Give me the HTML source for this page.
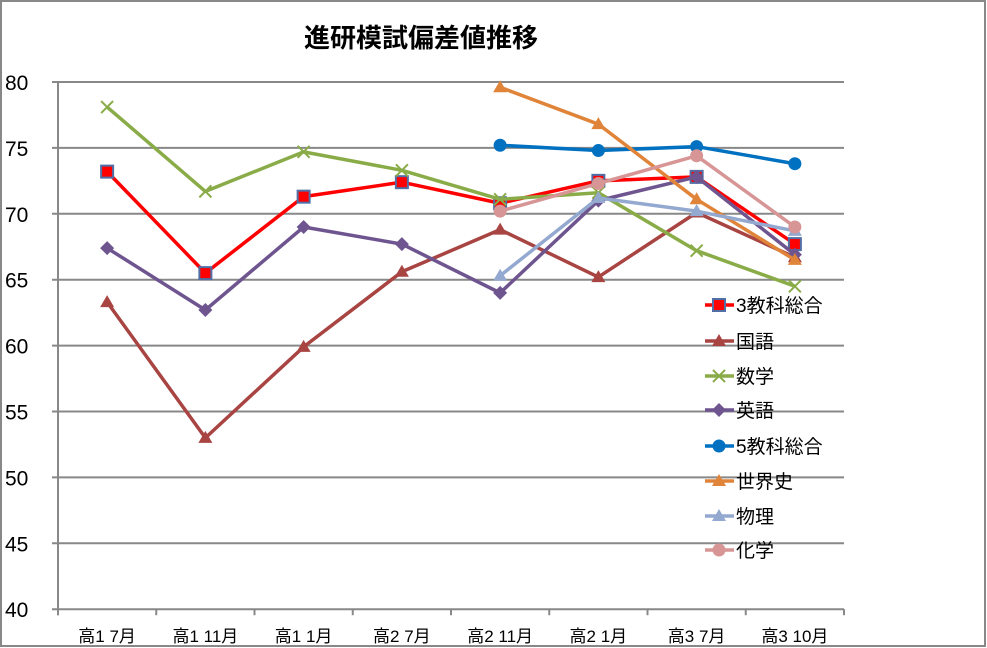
<!DOCTYPE html>
<html><head><meta charset="utf-8"><style>
html,body{margin:0;padding:0;background:#fff}
svg{display:block}
text{font-family:"Liberation Sans","Noto Sans CJK JP",sans-serif}
</style></head><body>
<svg width="987" height="648" xmlns="http://www.w3.org/2000/svg">
<rect x="1" y="1" width="984" height="645" fill="#fff" stroke="#888" stroke-width="2"/>
<text x="421" y="47" font-size="26" font-weight="bold" text-anchor="middle">進研模試偏差値推移</text>
<g id="plot"></g>
</svg>
<script>
const svg=document.getElementById('plot');const NS="http://www.w3.org/2000/svg";
function el(t,a,txt){const e=document.createElementNS(NS,t);for(const k in a)e.setAttribute(k,a[k]);if(txt!==undefined)e.textContent=txt;svg.appendChild(e);return e;}
const X0=58,X1=844,dx=(X1-X0)/8;
const Y=v=>82+(80-v)*13.18, X=i=>X0+dx*(i+0.5);
for(let v=40;v<=80;v+=5){el('line',{x1:X0-6,x2:X1,y1:Y(v),y2:Y(v),stroke:'#888','stroke-width':2});
el('text',{x:5,y:Y(v)+8,'font-size':21},String(v));}
el('line',{x1:X0,x2:X0,y1:Y(80),y2:Y(40)+6,stroke:'#888','stroke-width':2});
for(let i=0;i<=8;i++)el('line',{x1:X0+dx*i,x2:X0+dx*i,y1:Y(40),y2:Y(40)+6,stroke:'#888','stroke-width':2});
const cats=['高1 7月','高1 11月','高1 1月','高2 7月','高2 11月','高2 1月','高3 7月','高3 10月'];
cats.forEach((c,i)=>el('text',{x:X(i),y:642,'font-size':17,'text-anchor':'middle'},c));
const S=[
['3教科総合','#ff0000','sq',[73.2,65.5,71.3,72.4,70.8,72.5,72.8,67.7]],
['国語','#a84442','tri',[63.3,53,59.9,65.6,68.8,65.2,70.1,66.7]],
['数学','#8aac48','x',[78.1,71.7,74.7,73.3,71.1,71.6,67.2,64.5]],
['英語','#6e558f','dia',[67.4,62.7,69,67.7,64,71,72.8,66.9]],
['5教科総合','#0070c0','cir',[null,null,null,null,75.2,74.8,75.1,73.8]],
['世界史','#e0843a','tri',[null,null,null,null,79.6,76.8,71.1,66.5]],
['物理','#94a9d0','tri',[null,null,null,null,65.3,71.2,70.2,68.7]],
['化学','#d79595','cir',[null,null,null,null,70.2,72.3,74.4,69]]];
function mark(t,x,y,c){
 if(t=='sq')el('rect',{x:x-6,y:y-6,width:12,height:12,fill:'#ff0000',stroke:'#4f6fa6','stroke-width':2});
 else if(t=='tri')el('polygon',{points:`${x},${y-7} ${x+7},${y+5} ${x-7},${y+5}`,fill:c});
 else if(t=='x'){el('path',{d:`M${x-6} ${y-6}L${x+6} ${y+6}M${x+6} ${y-6}L${x-6} ${y+6}`,stroke:c,'stroke-width':2});}
 else if(t=='dia')el('polygon',{points:`${x},${y-7} ${x+7},${y} ${x},${y+7} ${x-7},${y}`,fill:c});
 else el('circle',{cx:x,cy:y,r:6.5,fill:c});
}
S.forEach((s,k)=>{const pts=[];s[3].forEach((v,i)=>{if(v!=null)pts.push([X(i),Y(v)])});
 el('polyline',{points:pts.map(p=>p.join(',')).join(' '),fill:'none',stroke:s[1],'stroke-width':3.5,'stroke-linejoin':'round'});
 pts.forEach(p=>mark(s[2],p[0],p[1],s[1]));
 const ly=[305,341,376,410,446,481,516,550][k];
 el('line',{x1:705,x2:734,y1:ly,y2:ly,stroke:s[1],'stroke-width':3.5});
 mark(s[2],719,ly,s[1]);
 el('text',{x:736,y:ly+7,'font-size':19},s[0]);
});
</script>
</body></html>
